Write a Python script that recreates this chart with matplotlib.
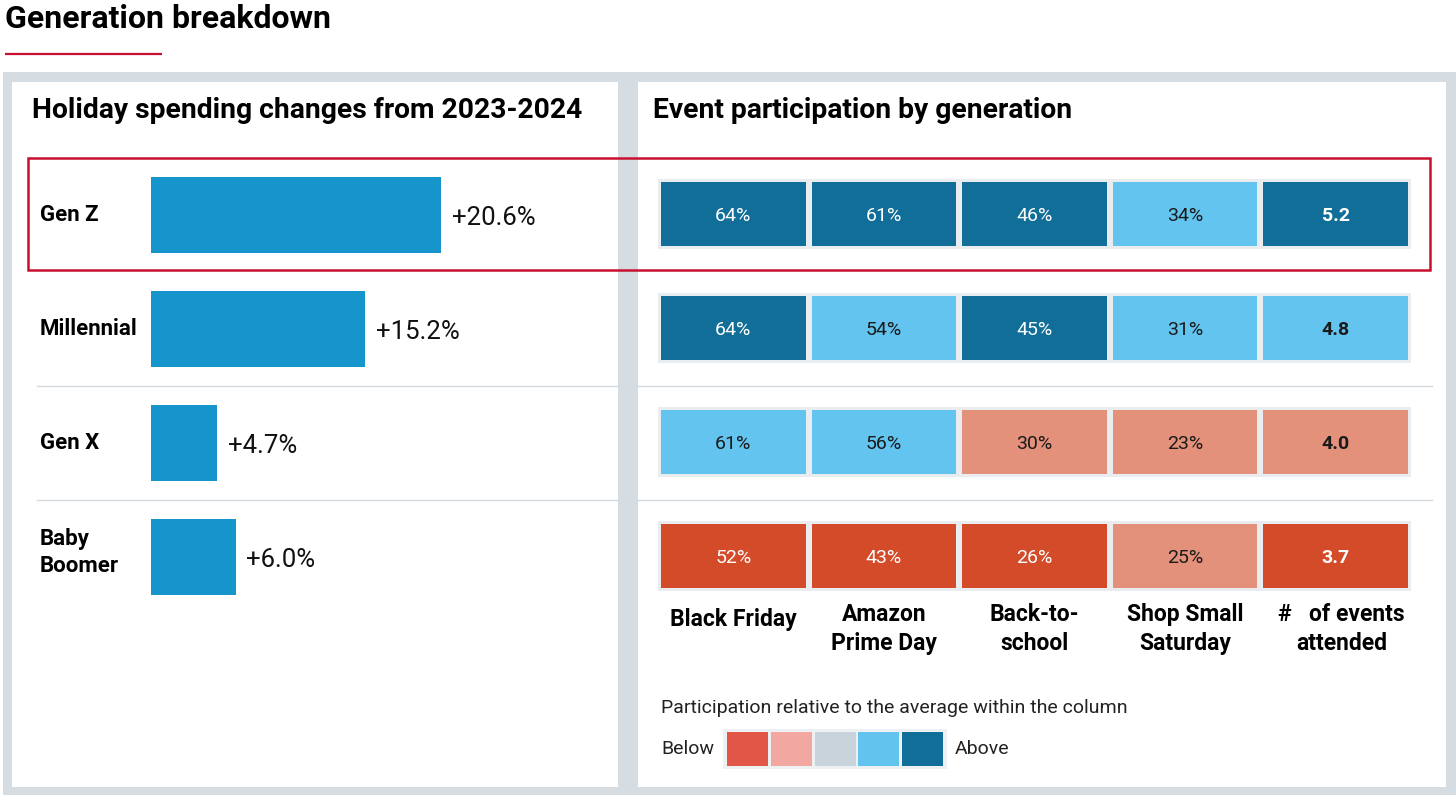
import numpy as np
import matplotlib
matplotlib.use("Agg")
import matplotlib.pyplot as plt
from matplotlib.patches import Rectangle

plt.rcParams['font.family'] = ['Roboto', 'DejaVu Sans']

# data
generations = ["Gen Z", "Millennial", "Gen X", "Baby\nBoomer"]
spend_change = [20.6, 15.2, 4.7, 6.0]

events = ["Black Friday", "Amazon\nPrime Day", "Back-to-\nschool", "Shop Small\nSaturday", "#   of events\nattended"]
participation = [[64, 61, 46, 34],
                 [64, 54, 45, 31],
                 [61, 56, 30, 23],
                 [52, 43, 26, 25]]
events_attended = [5.2, 4.8, 4.0, 3.7]
# 0 = well below, 1 = below, 2 = average, 3 = above, 4 = well above
relative = [[4, 4, 4, 3, 4],
            [4, 3, 4, 3, 3],
            [3, 3, 1, 1, 1],
            [0, 0, 0, 1, 0]]

cell_colors = ["#d34b29", "#e4917c", "#c9d3db", "#62c4ef", "#106e98"]
legend_colors = ["#e15646", "#f2a8a0", "#c9d3db", "#62c4ee", "#106e98"]
bar_color = "#1695cd"
red = "#c8102e"
frame = "#d6dde2"
W, H = 1456, 795

fig = plt.figure(figsize=(W / 100, H / 100), dpi=100)


def px_axes(x0, y0, x1, y1):
    # axes placed by pixel box (top-left origin)
    return fig.add_axes([x0 / W, 1 - y1 / H, (x1 - x0) / W, (y1 - y0) / H])


# background layer in pixel coordinates
bg = px_axes(0, 0, W, H)
bg.set_xlim(0, W)
bg.set_ylim(H, 0)
bg.axis("off")
bg.add_patch(Rectangle((3, 72), W - 3, H - 72, color=frame, lw=0))
bg.add_patch(Rectangle((12, 82), 606, 705, color="white", lw=0))
bg.add_patch(Rectangle((638, 82), 808, 705, color="white", lw=0))
bg.text(5, 19, "Generation breakdown", fontsize=23, fontweight="bold", va="center", ha="left")
bg.plot([5, 162], [54, 54], color=red, lw=1.6, solid_capstyle="butt")
bg.text(32, 110, "Holiday spending changes from 2023-2024", fontsize=20.3, fontweight="bold", va="center")
bg.text(653, 110, "Event participation by generation", fontsize=20.3, fontweight="bold", va="center")
for y in [386, 500]:
    bg.plot([37, 618], [y, y], color="#d5dadf", lw=1)
    bg.plot([638, 1432], [y, y], color="#d5dadf", lw=1)

# left: bars
ax1 = px_axes(151, 158, 151 + 14.1 * 30, 614)
ypos = np.arange(len(generations))
ax1.barh(ypos, spend_change, height=0.66, color=bar_color)
ax1.set_xlim(0, 30)
ax1.set_ylim(3.5, -0.5)
ax1.axis("off")
for i, v in enumerate(spend_change):
    ax1.text(v + 0.75, i + 0.03, f"+{v:.1f}%", fontsize=18.5, va="center", ha="left", color="#111111")
    dy = -0.04 if "\n" in generations[i] else 0.0
    ax1.text(-7.9, i + dy, generations[i], fontsize=16, fontweight="bold", va="center", ha="left", linespacing=1.3)

# right: heatmap
ax2 = px_axes(658, 157, 1411, 613)
ax2.set_xlim(-0.5, 4.5)
ax2.set_ylim(3.5, -0.5)
ax2.axis("off")
for i in range(len(relative)):
    ax2.add_patch(Rectangle((-0.53, i - 0.31), 5.06, 0.62, color="#e9edf0", lw=0))
    for j in range(len(events)):
        lvl = relative[i][j]
        ax2.add_patch(Rectangle((j - 0.48, i - 0.28), 0.96, 0.56, color=cell_colors[lvl], lw=0))
        txt_color = "white" if lvl in (0, 4) else "#1a1a1a"
        if j < 4:
            ax2.text(j, i + 0.02, f"{participation[i][j]}%", fontsize=14,
                     color=txt_color, ha="center", va="center")
        else:
            ax2.text(j, i + 0.02, f"{events_attended[i]:.1f}", fontsize=14, fontweight="bold",
                     color=txt_color, ha="center", va="center")
for j, name in enumerate(events):
    y_lab = 3.46 if "\n" not in name else 3.41
    dx = 0.04 if j == 4 else 0
    ax2.text(j + dx, y_lab, name, fontsize=16.5, fontweight="bold", ha="center", va="top",
             multialignment="center", linespacing=1.35)

# highlight box round Gen Z
bg.add_patch(Rectangle((28, 158), 1402, 112, fill=False, edgecolor=red, lw=1.8))

# legend
bg.text(661, 708, "Participation relative to the average within the column", fontsize=14, va="center", color="#222222")
bg.text(661, 749, "Below", fontsize=14, va="center", color="#222222")
bg.text(955, 749, "Above", fontsize=14, va="center", color="#222222")
bg.add_patch(Rectangle((723, 729), 224, 40, color="#eef1f3", lw=0))
for k, c in enumerate(legend_colors):
    bg.add_patch(Rectangle((727 + k * 43.8, 732), 41, 34, color=c, lw=0))

fig.savefig("out.png", dpi=100)
